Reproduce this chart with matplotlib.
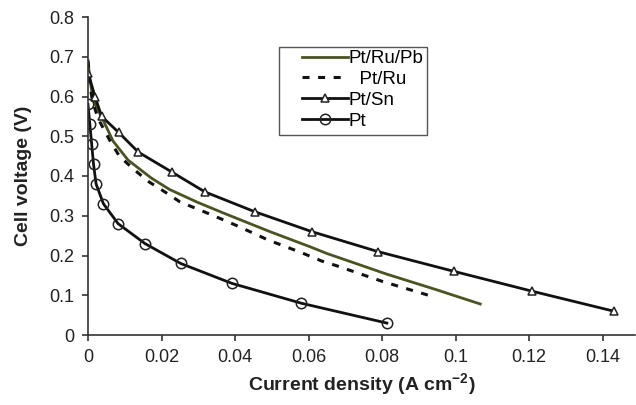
import matplotlib
matplotlib.use("Agg")
import matplotlib.pyplot as plt
from matplotlib.patches import Rectangle

plt.rcParams["font.family"] = ["Liberation Sans", "DejaVu Sans"]
plt.rcParams["mathtext.fontset"] = "custom"
plt.rcParams["mathtext.rm"] = "Liberation Sans"
plt.rcParams["mathtext.bf"] = "Liberation Sans:bold"

# --- data ---
pb_x = [0, 0.0005, 0.001, 0.002, 0.0041, 0.0068, 0.0109, 0.0172, 0.0222, 0.030,
        0.0368, 0.0495, 0.0604, 0.065, 0.0813, 0.0944, 0.1067]
pb_y = [0.69, 0.645, 0.615, 0.58, 0.541, 0.488, 0.44, 0.395, 0.366, 0.333,
        0.307, 0.260, 0.222, 0.205, 0.153, 0.115, 0.078]

ru_x = [0, 0.0005, 0.001, 0.002, 0.0033, 0.0059, 0.0086, 0.0127, 0.0163, 0.0209,
        0.025, 0.0337, 0.0405, 0.049, 0.0581, 0.0636, 0.0677, 0.080, 0.0944]
ru_y = [0.69, 0.635, 0.60, 0.565, 0.535, 0.49, 0.449, 0.415, 0.387, 0.36,
        0.335, 0.302, 0.275, 0.239, 0.207, 0.186, 0.174, 0.135, 0.095]

sn_x = [0, 0.0019, 0.0037, 0.0083, 0.0137, 0.0228, 0.0318, 0.0454, 0.0609, 0.0788, 0.0996, 0.1209, 0.143]
sn_y = [0.66, 0.60, 0.55, 0.51, 0.46, 0.41, 0.36, 0.31, 0.26, 0.21, 0.16, 0.11, 0.06]

pt_x = [0, 0.0005, 0.001, 0.0015, 0.0022, 0.0042, 0.0082, 0.0155, 0.0252, 0.0391, 0.058, 0.0813]
pt_y = [0.58, 0.53, 0.48, 0.43, 0.38, 0.33, 0.28, 0.23, 0.18, 0.13, 0.08, 0.03]

xticks = [0, 0.02, 0.04, 0.06, 0.08, 0.1, 0.12, 0.14]
xlabels = ["0", "0.02", "0.04", "0.06", "0.08", "0.1", "0.12", "0.14"]
yticks = [0, 0.1, 0.2, 0.3, 0.4, 0.5, 0.6, 0.7, 0.8]
ylabels = ["0", "0.1", "0.2", "0.3", "0.4", "0.5", "0.6", "0.7", "0.8"]

W, H = 636, 405
fig = plt.figure(figsize=(W / 100, H / 100), dpi=100)
ax = fig.add_axes([88 / W, 1 - 335 / H, (635 - 88) / W, (335 - 17) / H])

ax.plot(pb_x, pb_y, color="#4b5320", lw=2, label="Pt/Ru/Pb")
ax.plot(ru_x, ru_y, color="#111111", lw=2.2, linestyle=(0, (2.3, 2.8)), label="  Pt/Ru")
ax.plot(sn_x, sn_y, color="#111111", lw=2, marker="^", ms=6, mfc="white",
        mec="#222222", mew=1.1, label="Pt/Sn")
ax.plot(pt_x, pt_y, color="#111111", lw=2, marker="o", ms=7.5, mfc="none",
        mec="#222222", mew=1.1, label="Pt")

ax.set_xlim(0, 0.1488)
ax.set_ylim(0, 0.8)
ax.set_xticks(xticks)
ax.set_xticklabels(xlabels)
ax.set_yticks(yticks)
ax.set_yticklabels(ylabels)

for s in ["top", "right"]:
    ax.spines[s].set_visible(False)
for s in ["left", "bottom"]:
    ax.spines[s].set_color("#333333")
    ax.spines[s].set_linewidth(1.2)
ax.tick_params(direction="out", length=4, width=1.2, colors="#333333",
               labelsize=13, labelcolor="#222222", pad=6)

ax.set_xlabel("Current density (A cm$^{\\mathbf{-2}}$)", fontsize=14,
              fontweight="bold", color="#222222", labelpad=4)
ax.set_ylabel("Cell voltage (V)", fontsize=14, fontweight="bold",
              color="#222222", labelpad=12)

# legend without frame, frame drawn separately (padding is uneven in the original)
leg = ax.legend(loc="upper left", bbox_to_anchor=(302 / W, 1 - 50 / H),
                bbox_transform=fig.transFigure, fontsize=13.5, frameon=False,
                borderaxespad=0, borderpad=0, handlelength=2.45,
                handletextpad=0.05, labelspacing=0.2)
fig.add_artist(Rectangle((279 / W, 1 - 135 / H), 148 / W, 88 / H,
                         transform=fig.transFigure, fill=False,
                         edgecolor="#555555", lw=1.0))

fig.savefig("out.png", dpi=100)
